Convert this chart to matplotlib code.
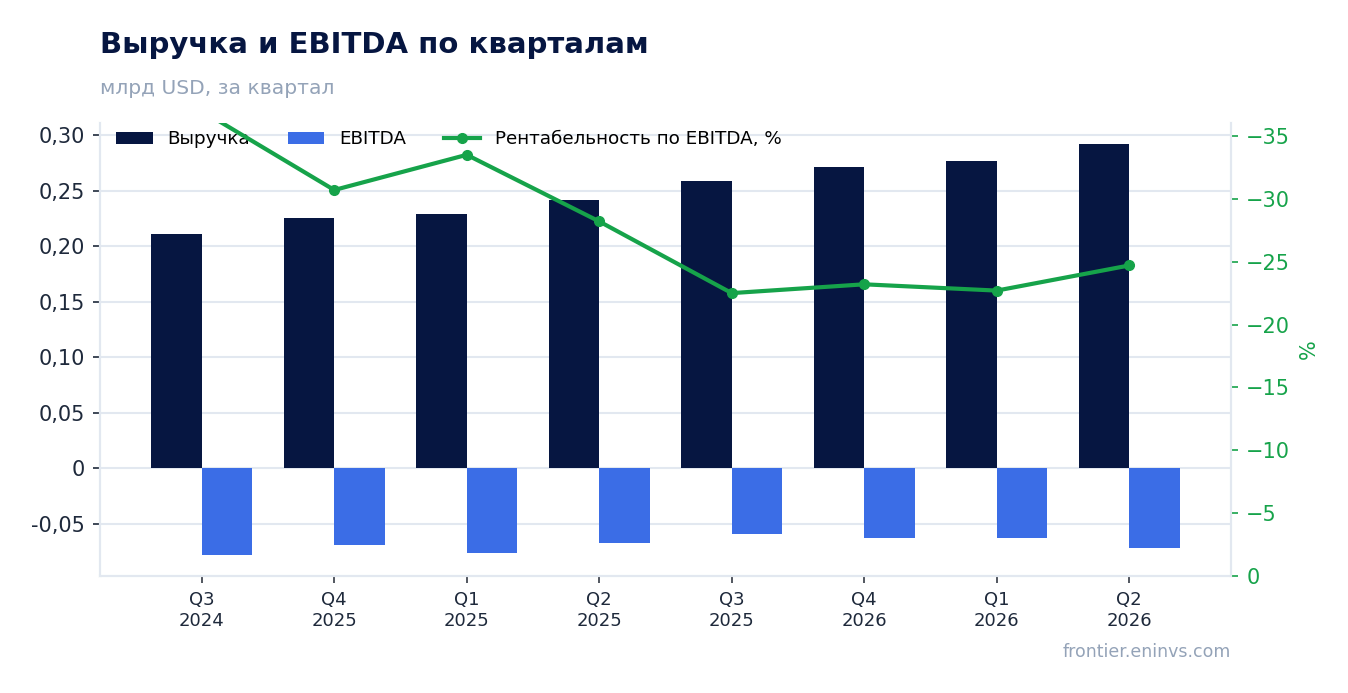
import numpy as np
import matplotlib
matplotlib.use("Agg")
import matplotlib.pyplot as plt
from matplotlib.ticker import FuncFormatter, MultipleLocator

# data
quarters = ["Q3\n2024", "Q4\n2025", "Q1\n2025", "Q2\n2025", "Q3\n2025", "Q4\n2026", "Q1\n2026", "Q2\n2026"]
revenue = [0.211, 0.225, 0.229, 0.242, 0.259, 0.271, 0.277, 0.292]
ebitda = [-0.078, -0.069, -0.077, -0.068, -0.059, -0.063, -0.063, -0.072]
margin = [-37.0, -30.7, -33.5, -28.2, -22.5, -23.2, -22.7, -24.7]

NAVY = "#061641"
BLUE = "#3b6de6"
GREEN = "#16a34a"
GRID = "#e2e8f0"
GREYTXT = "#94a3b8"
DARK = "#1e293b"

plt.rcParams['font.family'] = ['DejaVu Sans']

fig = plt.figure(figsize=(13.48, 6.93), dpi=100)
ax = fig.add_axes([100/1348, 1 - 576/693, (1231-100)/1348, (576-123)/693])
ax2 = ax.twinx()

x = np.arange(len(quarters))
w = 0.38
ax.bar(x - w/2, revenue, w, color=NAVY, label="Выручка", zorder=2)
ax.bar(x + w/2, ebitda, w, color=BLUE, label="EBITDA", zorder=2)

ax.set_ylim(-0.0973, 0.311)
ax.yaxis.set_major_locator(MultipleLocator(0.05))
ax.yaxis.set_major_formatter(FuncFormatter(
    lambda v, p: "0" if abs(v) < 1e-9 else f"{v:.2f}".replace(".", ",")))
ax.set_xticks(x)
ax.set_xticklabels(quarters, fontsize=13, color=DARK, linespacing=1.2)
ax.tick_params(axis="y", labelsize=15, colors=DARK, length=5, width=1.2, pad=6)
ax.tick_params(axis="x", length=5, width=1.2, colors="#333a44", pad=6)
for lab in ax.get_xticklabels():
    lab.set_color(DARK)
ax.grid(axis="y", color=GRID, linewidth=1.5, zorder=0)
ax.set_axisbelow(True)

ax2.plot(x, margin, color=GREEN, linewidth=3, marker="o", markersize=7,
         label="Рентабельность по EBITDA, %", zorder=3)
ax2.set_ylim(0, -36.03)
ax2.yaxis.set_major_locator(MultipleLocator(5))
ax2.yaxis.set_major_formatter(FuncFormatter(
    lambda v, p: "0" if abs(v) < 1e-9 else f"{v:.0f}".replace("-", "\u2212")))
ax2.tick_params(axis="y", labelsize=15, colors=GREEN, length=5, width=1.2, pad=6)
ax2.set_ylabel("%", color=GREEN, fontsize=15, labelpad=6)

for a in (ax, ax2):
    a.spines["top"].set_visible(False)
    for s in ("left", "right", "bottom"):
        a.spines[s].set_color(GRID)
        a.spines[s].set_linewidth(1.5)
ax.set_xlim(-0.768, 7.768)

h1, l1 = ax.get_legend_handles_labels()
h2, l2 = ax2.get_legend_handles_labels()
ax.legend(h1 + h2, l1 + l2, loc="upper left", bbox_to_anchor=(0.003, 1.012),
          ncol=3, frameon=False, fontsize=13.2, handlelength=2.0,
          columnspacing=2.05, borderaxespad=0.3)

fig.text(100/1348, 1 - 45/693, "Выручка и EBITDA по кварталам", fontsize=21,
         fontweight="bold", color=NAVY, va="center")
fig.text(100/1348, 1 - 88/693, "млрд USD, за квартал", fontsize=14.6,
         color=GREYTXT, va="center")
fig.text(1231/1348, 1 - 652/693, "frontier.eninvs.com", fontsize=12.5,
         color=GREYTXT, va="center", ha="right")

fig.savefig("out.png", dpi=100, facecolor="white")
